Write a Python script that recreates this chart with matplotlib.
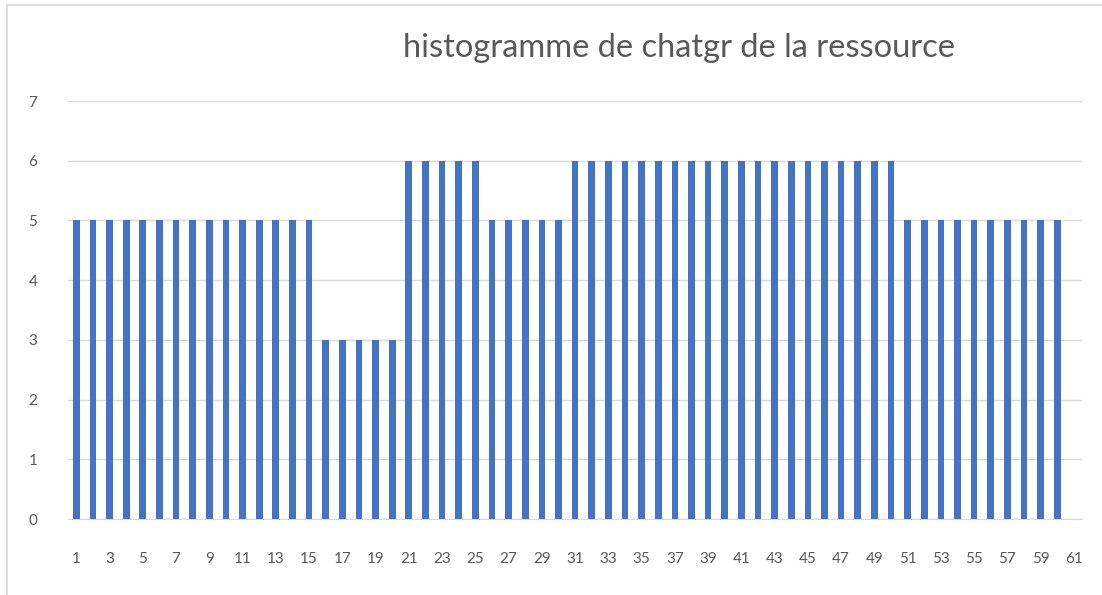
import matplotlib
matplotlib.use("Agg")
import matplotlib.pyplot as plt
from matplotlib.patches import Rectangle

categories = list(range(1, 62))
values = [5]*15 + [3]*5 + [6]*5 + [5]*5 + [6]*20 + [5]*10 + [0]
title = "histogramme de chatgr de la ressource"
xtick_labels = [str(c) for c in categories[::2]]

plt.rcParams['font.family'] = ['Lato', 'DejaVu Sans']

fig = plt.figure(figsize=(11.02, 5.95), dpi=100)
ax = fig.add_axes([0.0617, 0.1277, 0.9203, 0.7025])

ax.bar(categories, values, width=0.4, color='#4472C4', zorder=3)
ax.set_xlim(0.5, 61.5)
ax.set_ylim(0, 7)
ax.set_yticks(range(0, 8))
ax.set_xticks(categories[::2])
ax.set_xticklabels(xtick_labels)
ax.grid(axis='y', color='#d9d9d9', linewidth=1, zorder=0)
for s in ['top', 'right', 'left']:
    ax.spines[s].set_visible(False)
ax.spines['bottom'].set_color('#d9d9d9')
ax.tick_params(axis='both', length=0, colors='#595959', labelsize=11)
ax.tick_params(axis='x', pad=24)
ax.tick_params(axis='y', pad=22)

fig.text(0.616, 0.919, title, ha='center', va='center', fontsize=23.5, color='#595959')

fig.patches.append(Rectangle((0.006, -0.01), 1.0, 1.001, transform=fig.transFigure,
                             fill=False, edgecolor='#d9d9d9', linewidth=1.2))

fig.savefig('out.png', dpi=100)
